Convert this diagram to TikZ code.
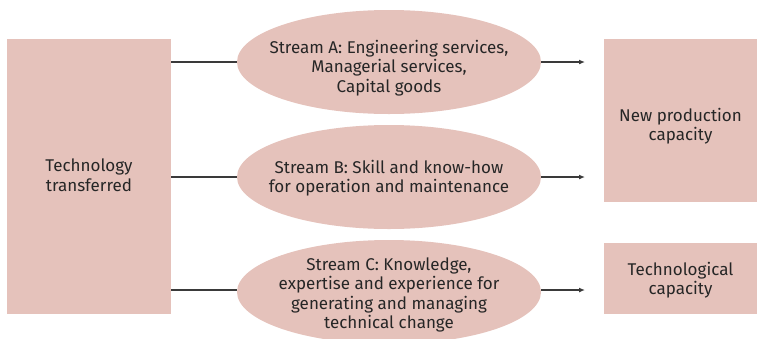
\documentclass[tikz,border=0pt]{standalone}
\usepackage{fontspec}
\setmainfont{Fira Sans}
\usetikzlibrary{shapes.geometric,arrows.meta}
\definecolor{boxpink}{HTML}{E5C2BB}
\definecolor{linegray}{HTML}{3A3A3A}
\tikzset{
  txt/.style={align=center, font=\fontsize{17}{19.5}\selectfont, inner sep=0pt, text=black!85},
  pinkbox/.style={fill=boxpink, draw=none, inner sep=0pt},
  pinkoval/.style={ellipse, fill=boxpink, draw=none, inner sep=0pt, minimum width=304pt, minimum height=104pt},
  conn/.style={draw=linegray, line width=1.2pt},
  arr/.style={conn, -{Latex[length=6pt,width=5pt]}}
}
\begin{document}
\begin{tikzpicture}[x=1pt,y=-1pt]
\useasboundingbox (0,0) rectangle (757,338);
\clip (0,0) rectangle (757,338);
\node[pinkbox, minimum width=164pt, minimum height=275pt] (tt) at (89,176.5) {};
\node[pinkoval] (sa) at (389,62) {};
\node[pinkoval] (sb) at (389,177) {};
\node[pinkoval] (sc) at (389,292) {};
\node[pinkbox, minimum width=153pt, minimum height=163pt] (np) at (680.5,120.5) {};
\node[pinkbox, minimum width=153pt, minimum height=71pt] (tc) at (680.5,278.5) {};
\node[txt] (ttt) at (89,175) {Technology\\transferred};
\node[txt] (sat) at (389,68) {Stream A: Engineering services,\\Managerial services,\\Capital goods};
\node[txt] (sbt) at (389,178) {Stream B: Skill and know-how\\for operation and maintenance};
\node[txt] (sct) at (389,295) {Stream C: Knowledge,\\expertise and experience for\\generating and managing\\technical change};
\node[txt] (npt) at (680.5,126) {New production\\capacity};
\node[txt] (tct) at (680.5,280) {Technological\\capacity};
\coordinate (ea) at (585,62);
\coordinate (eb) at (585,177);
\coordinate (ec) at (585,290);
\draw[conn] (tt.east |- sa) -- (sa.west);
\draw[conn] (tt.east |- sb) -- (sb.west);
\draw[conn] (tt.east |- ec) -- (sc.west |- ec);
\draw[arr] (sa.east) -- (ea);
\draw[arr] (sb.east) -- (eb);
\draw[arr] (sc.east |- ec) -- (ec);
\end{tikzpicture}
\end{document}
